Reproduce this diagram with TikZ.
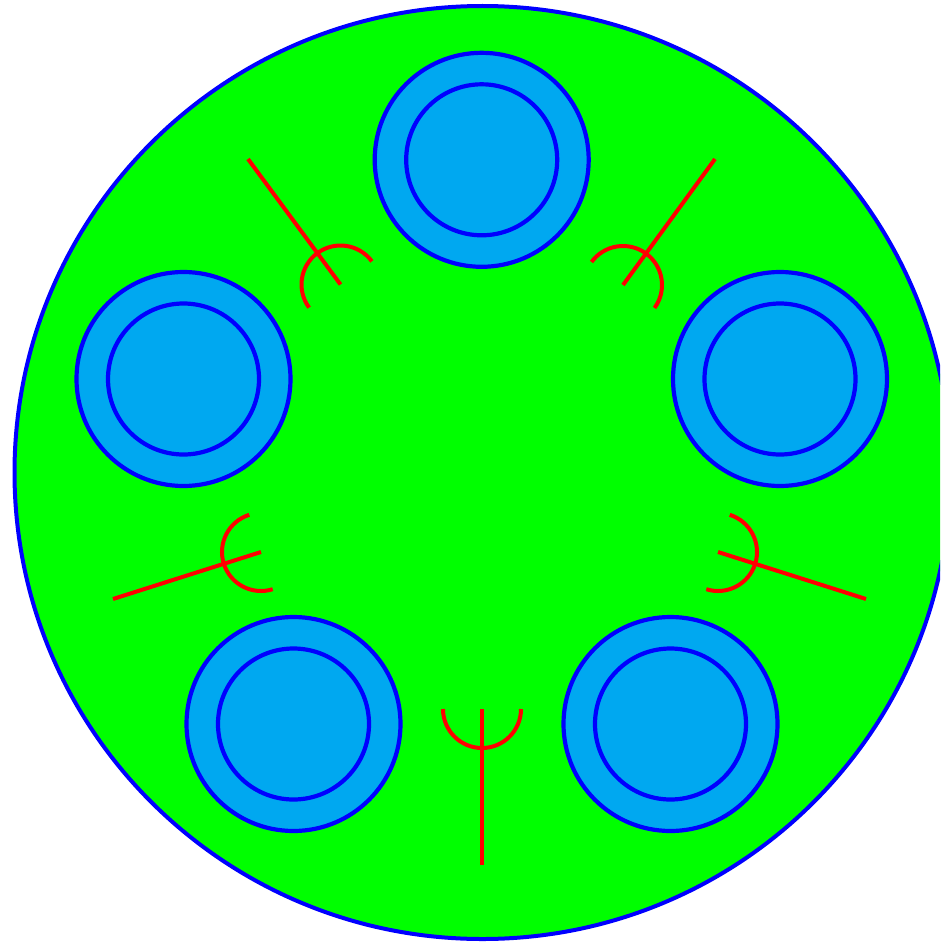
\documentclass[tikz,border=0pt]{standalone}
\definecolor{discgreen}{RGB}{0,255,0}
\definecolor{edgeblue}{RGB}{0,0,255}
\definecolor{ringfill}{RGB}{0,168,240}
\definecolor{markred}{RGB}{255,0,0}
\begin{document}
\begin{tikzpicture}[x=1pt,y=1pt,
  bigdisc/.style={fill=discgreen,draw=edgeblue,line width=4pt},
  ringouter/.style={fill=ringfill,draw=edgeblue,line width=4.2pt},
  ringinner/.style={fill=ringfill,draw=edgeblue,line width=4.2pt},
  markline/.style={draw=markred,line width=4pt}]
\useasboundingbox (0,0) rectangle (940,-942);
\clip (0,0) rectangle (940,-942);
% big disc
\coordinate (centre) at (482.5,-472.5);
\draw[bigdisc] (centre) ellipse[x radius=468, y radius=466.5];
% rings
\coordinate (rtop) at (481.7,-159.8);
\coordinate (rleft) at (183.5,-379);
\coordinate (rright) at (780,-379);
\coordinate (rbl) at (293.5,-724);
\coordinate (rbr) at (670.5,-724);
\foreach \r in {rtop,rleft,rright,rbl,rbr}{
  \draw[ringouter] (\r) circle[radius=107];
  \draw[ringinner] (\r) circle[radius=75.5];
}
% red symbols: centre, outer end, direction angle
\coordinate (sb) at (482,-709);   \coordinate (sbe) at (482,-865);
\coordinate (str) at (623,-285);  \coordinate (stre) at (715,-159);
\coordinate (stl) at (340.5,-284.5); \coordinate (stle) at (248,-159);
\coordinate (sr) at (718,-552);   \coordinate (sre) at (866,-599);
\coordinate (sl) at (261,-552);   \coordinate (sle) at (113,-599);
\foreach \c/\e/\a in {sb/sbe/-90, str/stre/53.9, stl/stle/126.4, sr/sre/-17.5, sl/sle/197.5}{
  \draw[markline] (\c) -- (\e);
  \draw[markline] ([shift={(\a+90:39)}]\c) arc[start angle=\a+90, end angle=\a-90, radius=39];
}
\end{tikzpicture}
\end{document}
